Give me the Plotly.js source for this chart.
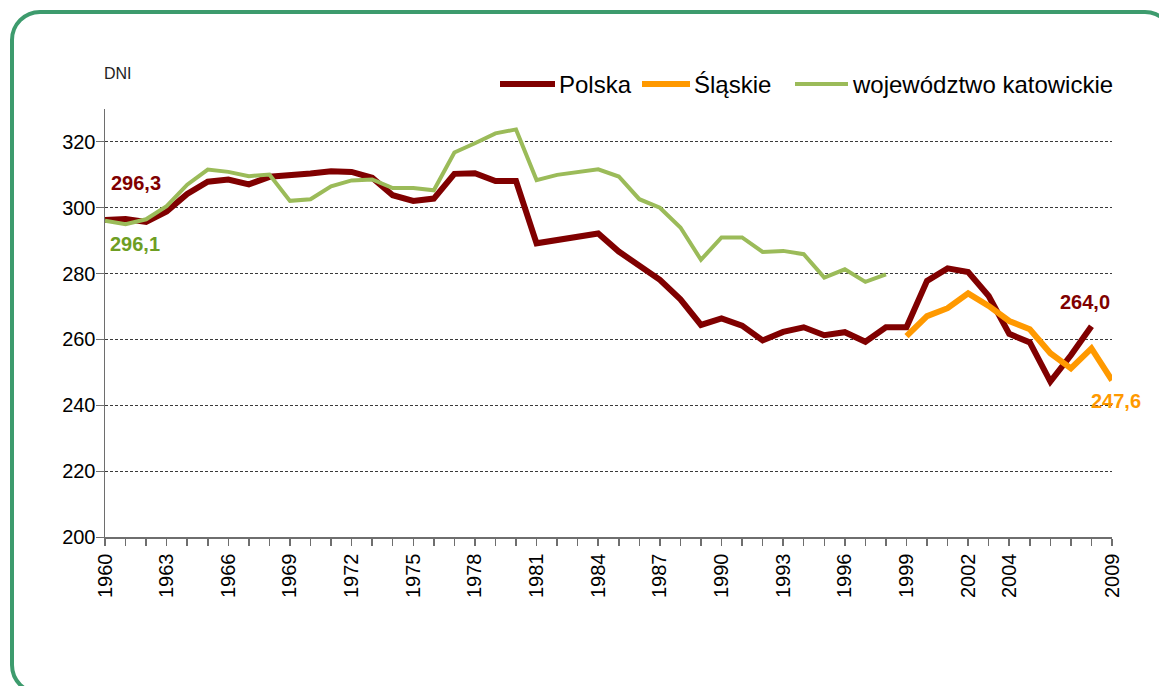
<!DOCTYPE html>
<html><head><meta charset="utf-8">
<script src="https://cdn.plot.ly/plotly-3.0.1.min.js"></script>
<style>
html,body{margin:0;padding:0;background:#fff;width:1159px;height:686px;overflow:hidden;}
#frame{position:absolute;left:10px;top:10px;width:1165px;height:685px;border:4px solid #3d9b6d;border-radius:30px;box-sizing:border-box;}
#chart{position:absolute;left:0;top:0;width:1159px;height:686px;}
</style></head><body>
<div id="frame"></div>
<div id="chart"></div>
<script>
const yearsPolska = [1960,1961,1962,1963,1964,1965,1966,1967,1968,1969,1970,1971,1972,1973,1974,1975,1976,1977,1978,1979,1980,1981,1982,1983,1984,1985,1986,1987,1988,1989,1990,1991,1992,1993,1994,1995,1996,1997,1998,1999,2000,2001,2002,2003,2004,2005,2006,2007,2008];
const polska = [296.3,296.6,295.7,298.9,304.2,307.9,308.6,307.1,309.4,309.8,310.4,311.1,310.9,309.1,303.8,302.1,302.8,310.3,310.5,308.1,308.1,289.2,290.1,291.0,292.2,286.7,282.6,278.1,272.2,264.4,266.4,264.2,259.7,262.3,263.7,261.3,262.2,259.3,263.7,263.7,277.8,281.6,280.5,273.2,261.7,259.1,247.2,255.2,264.0];

const yearsKatowickie = [1960,1961,1962,1963,1964,1965,1966,1967,1968,1969,1970,1971,1972,1973,1974,1975,1976,1977,1978,1979,1980,1981,1982,1983,1984,1985,1986,1987,1988,1989,1990,1991,1992,1993,1994,1995,1996,1997,1998];
const katowickie = [296.1,295.0,296.5,300.5,307.0,311.6,310.9,309.6,310.1,302.1,302.6,306.5,308.3,308.6,306.0,306.0,305.3,316.8,319.6,322.6,323.8,308.4,310.0,311.0,311.7,309.5,302.6,300.0,294.0,284.2,291.0,291.0,286.6,286.9,285.9,278.8,281.3,277.5,279.8];

const yearsSlaskie = [1999,2000,2001,2002,2003,2004,2005,2006,2007,2008,2009];
const slaskie = [261.0,267.1,269.5,274.0,270.2,265.6,263.1,255.8,251.2,257.3,247.6];

const xTickVals = [1960,1963,1966,1969,1972,1975,1978,1981,1984,1987,1990,1993,1996,1999,2002,2004,2009];
const xTickText = ["1960","1963","1966","1969","1972","1975","1978","1981","1984","1987","1990","1993","1996","1999","2002","2004","2009"];
const yTickVals = [200,220,240,260,280,300,320];

const names = ["Polska","Śląskie","województwo katowickie"];
const colors = {polska:"#800000", slaskie:"#FF9900", katowickie:"#9BBB59", katLabel:"#6E9E23"};

const fmt = v => v.toFixed(1).replace('.', ',');

const traces = [
  {x: yearsPolska, y: polska, name: names[0], type:'scatter', mode:'lines',
   line:{color:colors.polska, width:6}},
  {x: yearsSlaskie, y: slaskie, name: names[1], type:'scatter', mode:'lines',
   line:{color:colors.slaskie, width:6}},
  {x: yearsKatowickie, y: katowickie, name: names[2], type:'scatter', mode:'lines',
   line:{color:colors.katowickie, width:4}}
];

const F = "Liberation Sans, Arial, sans-serif";
const nP = polska.length-1, nS = slaskie.length-1;

// manual legend (plot area: 105..1112 px wide, 109..537 px tall)
const L = 105, W = 1007, B = 537, H = 428;
const px = v => (v - L) / W;
const py = v => (B - v) / H;
const legY = py(84);
const legItems = [
  {x0:500, x1:555, tx:557, color:colors.polska, width:6, name:names[0]},
  {x0:642, x1:690, tx:692, color:colors.slaskie, width:6, name:names[1]},
  {x0:795, x1:848, tx:850, color:colors.katowickie, width:4, name:names[2]}
];
const legShapes = legItems.map(it => ({type:'line', xref:'paper', yref:'paper',
  x0:px(it.x0), x1:px(it.x1), y0:legY, y1:legY, line:{color:it.color, width:it.width}}));
const legAnn = legItems.map(it => ({xref:'paper', yref:'paper', x:px(it.tx), y:legY,
  xanchor:'left', yanchor:'middle', showarrow:false, text:it.name,
  font:{family:F, size:24, color:'#000'}}));

const layout = {
  width:1159, height:686,
  margin:{l:105, r:47, t:109, b:149, pad:0},
  paper_bgcolor:'rgba(0,0,0,0)', plot_bgcolor:'#fff',
  font:{family:F, color:'#000'},
  showlegend:false,
  xaxis:{range:[1960,2009], tickmode:'array', tickvals:xTickVals, ticktext:xTickText,
         tickangle:-90, tickfont:{family:F, size:20, color:'#000'},
         showgrid:false, zeroline:false, showline:true, linecolor:'#6e6e6e', linewidth:1.5,
         ticks:'outside', ticklen:7, tickcolor:'#6e6e6e', tickwidth:1.5,
         minor:{tickmode:'linear', tick0:1960, dtick:1, ticks:'outside', ticklen:7, tickcolor:'#6e6e6e', tickwidth:1.5, showgrid:false}},
  yaxis:{range:[200,330], tickmode:'array', tickvals:yTickVals,
         tickfont:{family:F, size:20, color:'#000'},
         showgrid:true, gridcolor:'#3a3a3a', gridwidth:1, griddash:'3px,2px',
         zeroline:false, showline:true, linecolor:'#6e6e6e', linewidth:1.5,
         ticks:'outside', ticklen:8, tickcolor:'#6e6e6e', tickwidth:1, ticklabelstandoff:-4},
  shapes: legShapes,
  annotations:[
    {xref:'paper', yref:'paper', x:px(102), y:py(73), xanchor:'left', yanchor:'middle', showarrow:false,
     text:'DNI', font:{family:F, size:16, color:'#222'}},
    {x:yearsPolska[0], y:polska[0], showarrow:false, xanchor:'left', yanchor:'middle', xshift:4, yshift:37,
     text:'<b>'+fmt(polska[0])+'</b>', font:{family:F, size:20, color:colors.polska}},
    {x:yearsKatowickie[0], y:katowickie[0], showarrow:false, xanchor:'left', yanchor:'middle', xshift:3, yshift:-23,
     text:'<b>'+fmt(katowickie[0])+'</b>', font:{family:F, size:20, color:colors.katLabel}},
    {x:yearsPolska[nP], y:polska[nP], showarrow:false, xanchor:'center', yanchor:'middle', xshift:-6, yshift:24,
     text:'<b>'+fmt(polska[nP])+'</b>', font:{family:F, size:20, color:colors.polska}},
    {x:yearsSlaskie[nS], y:slaskie[nS], showarrow:false, xanchor:'center', yanchor:'middle', xshift:4, yshift:-21,
     text:'<b>'+fmt(slaskie[nS])+'</b>', font:{family:F, size:20, color:colors.slaskie}}
  ].concat(legAnn)
};

Plotly.newPlot('chart', traces, layout, {displayModeBar:false, staticPlot:true});
</script>
</body></html>
